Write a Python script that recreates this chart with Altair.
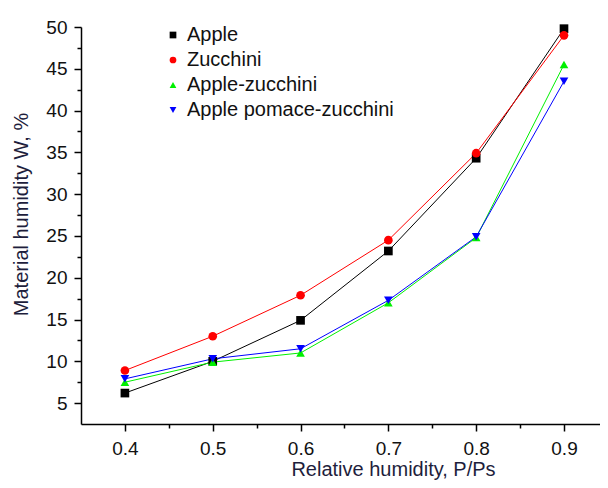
import altair as alt
import pandas as pd

rh = [0.4, 0.5, 0.6, 0.7, 0.8, 0.9]
apple = [6.2, 10.0, 14.9, 23.2, 34.3, 49.8]
zucchini = [8.9, 13.0, 17.9, 24.5, 34.9, 49.0]
apple_zucchini = [7.5, 9.9, 11.0, 17.0, 24.8, 45.5]
pomace_zucchini = [7.9, 10.3, 11.5, 17.3, 24.9, 43.5]

series = ["Apple", "Zucchini", "Apple-zucchini", "Apple pomace-zucchini"]
colors = ["#000000", "#ff0000", "#00f000", "#0000ff"]
shapes = ["square", "circle", "triangle-up", "triangle-down"]

rows = []
for name, vals in zip(series, [apple, zucchini, apple_zucchini, pomace_zucchini]):
    for x, y in zip(rh, vals):
        rows.append({"rh": x, "w": y, "series": name})
df = pd.DataFrame(rows)

x_major = [0.4, 0.5, 0.6, 0.7, 0.8, 0.9]
x_minor = [0.45, 0.55, 0.65, 0.75, 0.85]
y_major = [5, 10, 15, 20, 25, 30, 35, 40, 45, 50]
y_minor = [7.5, 12.5, 17.5, 22.5, 27.5, 32.5, 37.5, 42.5, 47.5]

FONT = "Liberation Sans"

x_enc = alt.X(
    "rh:Q",
    scale=alt.Scale(domain=[0.35, 0.941], nice=False, zero=False),
    axis=alt.Axis(
        title="Relative humidity, P/Ps",
        values=sorted(x_major + x_minor),
        labelExpr="round(datum.value*20) % 2 === 0 ? format(datum.value, '.1f') : ''",
        tickSize={"condition": {"test": "round(datum.value*20) % 2 === 0", "value": 7}, "value": 4},
        labelFlush=False,
        labelOverlap=False,
        grid=False,
        domainColor="#000000",
        domainWidth=1.5,
        tickColor="#000000",
        tickWidth=1.5,
        labelFont=FONT,
        labelFontSize=19,
        labelColor="#111111",
        labelPadding=8,
        titleFont=FONT,
        titleFontSize=20,
        titleFontWeight="normal",
        titleColor="#1e1e3c",
        titleX=312,
        titleY=51,
        titleBaseline="alphabetic",
    ),
)

y_enc = alt.Y(
    "w:Q",
    scale=alt.Scale(domain=[2.5, 50], nice=False, zero=False),
    axis=alt.Axis(
        title="Material humidity W, %",
        values=sorted(y_major + y_minor),
        labelExpr="datum.value % 5 === 0 ? datum.label : ''",
        tickSize={"condition": {"test": "datum.value % 5 === 0", "value": 7}, "value": 4},
        labelOverlap=False,
        grid=False,
        domainColor="#000000",
        domainWidth=1.5,
        tickColor="#000000",
        tickWidth=1.5,
        labelFont=FONT,
        labelFontSize=19,
        labelColor="#111111",
        labelPadding=7,
        titleFont=FONT,
        titleFontSize=20,
        titleFontWeight="normal",
        titleColor="#1e1e3c",
        titleX=-60,
        titleY=187,
        titleBaseline="middle",
    ),
)

color_scale = alt.Scale(domain=series, range=colors)
shape_scale = alt.Scale(domain=series, range=shapes)

lines = alt.Chart(df).mark_line(strokeWidth=1).encode(
    x=x_enc,
    y=y_enc,
    stroke=alt.Stroke("series:N", scale=color_scale, legend=None),
    detail="series:N",
)

legend = alt.Legend(
    title=None,
    orient="none",
    legendX=82,
    legendY=-2,
    labelFont=FONT,
    labelFontSize=20,
    labelColor="#111111",
    labelLimit=0,
    symbolSize=45,
    labelOffset=4,
    rowPadding=5,
    padding=0,
)

points = alt.Chart(df).mark_point(filled=True, size=75, opacity=1).encode(
    x=x_enc,
    y=y_enc,
    color=alt.Color("series:N", scale=color_scale, legend=legend),
    shape=alt.Shape("series:N", scale=shape_scale, legend=legend),
)

chart = (
    alt.layer(lines, points)
    .resolve_scale(stroke="independent")
    .properties(
        width=519,
        height=397,
        autosize=alt.AutoSizeParams(type="none"),
        padding={"left": 73, "top": 19, "right": 0, "bottom": 56},
        background="#ffffff",
    )
    .configure_view(stroke=None)
)

chart.save("out.html", embed_options={"renderer": "svg", "actions": False})
